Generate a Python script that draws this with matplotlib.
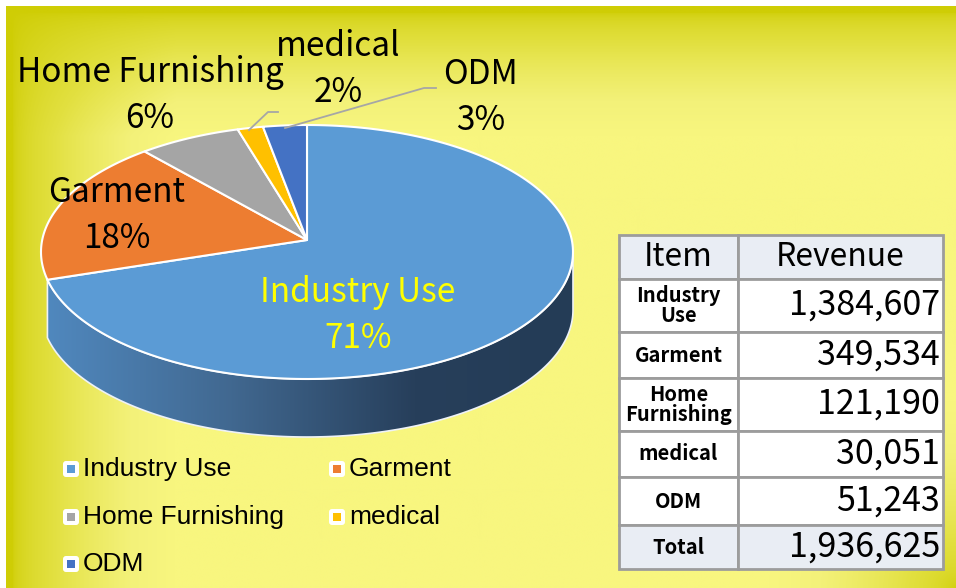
import matplotlib
matplotlib.use("Agg")
import matplotlib.pyplot as plt
import numpy as np
from matplotlib.patches import Polygon, Rectangle, FancyBboxPatch
from matplotlib.colors import LinearSegmentedColormap

# data
categories = ["Industry Use", "Garment", "Home Furnishing", "medical", "ODM"]
table_items = ["Industry\nUse", "Garment", "Home\nFurnishing", "medical", "ODM"]
revenue = [1384607, 349534, 121190, 30051, 51243]
colors = ["#5B9BD5", "#ED7D31", "#A5A5A5", "#FFC000", "#4472C4"]

W, H = 956, 588
LABEL_FONT = ["Noto Sans CJK TC", "DejaVu Sans"]
LEGEND_FONT = ["Liberation Sans", "DejaVu Sans"]

fig = plt.figure(figsize=(W / 100, H / 100), dpi=100)
ax = fig.add_axes([0, 0, 1, 1])
ax.set_xlim(0, W)
ax.set_ylim(H, 0)
ax.axis("off")

# background: light yellow fading to olive at the top, the left and the bottom-right corner
yy, xx = np.mgrid[0:H, 0:W].astype(float)
top = np.clip((yy - 6) / 125, 0, 1)
left = np.clip((xx - 6) / 165, 0, 1)
corner = np.clip(np.hypot(xx - W, yy - H) / 190, 0, 1)
light = np.sqrt(top * left * corner)
bg_cmap = LinearSegmentedColormap.from_list(
    "bg", [(0, "#cfcd05"), (0.5, "#e2e040"), (0.85, "#f3f179"), (1.0, "#f8f67f")])
ax.imshow(light, cmap=bg_cmap, vmin=0, vmax=1,
          extent=(6, W, H, 6), zorder=0, aspect="auto")

# pie geometry (ellipse in pixel space)
cx, cy, a, b = 307, 252, 266, 127
apex = (307, 240)
depth = 58
total = sum(revenue)
fracs = np.array(revenue) / total
bounds = 90 - 360 * np.concatenate([[0], np.cumsum(fracs)])


def ell(t, dy=0):
    t = np.radians(t)
    return np.column_stack([cx + a * np.cos(t), cy - b * np.sin(t) + dy])


# side wall: only the Industry Use part shows in front
split = bounds[1] + 360
ts = np.linspace(split, 360, 200)
verts = np.vstack([ell(ts), ell(ts[::-1], depth)])
poly = Polygon(verts, closed=True, facecolor="none", edgecolor="#eef2f7", lw=1.2, zorder=3)
ax.add_patch(poly)
side_cmap = LinearSegmentedColormap.from_list(
    "side", [(0, "#5088be"), (0.35, "#416890"), (0.7, "#273f5b"), (1, "#243c56")])
im = ax.imshow(np.linspace(0, 1, 256)[None, :], cmap=side_cmap, aspect="auto",
               extent=(verts[:, 0].min(), verts[:, 0].max(),
                       verts[:, 1].max(), verts[:, 1].min()), zorder=2)
im.set_clip_path(poly)

# top wedges
for i in range(len(revenue)):
    ts = np.linspace(bounds[i], bounds[i + 1], 200)
    verts = np.vstack([[apex], ell(ts)])
    ax.add_patch(Polygon(verts, closed=True, facecolor=colors[i],
                         edgecolor="white", lw=1.5, joinstyle="round", zorder=4))

# data labels
pct = [f"{round(f * 100):.0f}%" for f in fracs]
label_pos = [(358, 292, 338), (117, 193, 238), (150, 73, 118), (338, 47, 93), (481, 75, 121)]
for i, (x, y1, y2) in enumerate(label_pos):
    c = "#FFFF00" if i == 0 else "black"
    ax.text(x, y1, categories[i], ha="center", va="center", fontsize=24,
            family=LABEL_FONT, color=c, zorder=6)
    ax.text(x, y2, pct[i], ha="center", va="center", fontsize=24,
            family=LABEL_FONT, color=c, zorder=6)

# leader lines for the thin slices
ax.plot([278, 268, 249], [112, 112, 130], color="#a6a6a6", lw=1.3, zorder=5)
ax.plot([436, 424, 285], [88, 88, 128], color="#a6a6a6", lw=1.3, zorder=5)

# legend
leg_pos = [(62, 469), (328, 469), (62, 517), (328, 517), (62, 564)]
for (x, y), name, c in zip(leg_pos, categories, colors):
    ax.add_patch(FancyBboxPatch((x + 1, y - 8), 16, 16, boxstyle="round,pad=0,rounding_size=3",
                                facecolor="white", edgecolor="none", zorder=5))
    ax.add_patch(Rectangle((x + 5, y - 4), 8, 8, facecolor=c, edgecolor="none", zorder=6))
    ax.text(x + 21, y, name, ha="left", va="center", fontsize=19,
            family=LEGEND_FONT, zorder=6)

# revenue table
col_x = [619, 738, 943]
row_y = [235, 279, 332, 378, 431, 477, 525, 569]
rows = [("Item", "Revenue")] + [(t, f"{v:,}") for t, v in zip(table_items, revenue)] + \
       [("Total", f"{total:,}")]
for k, (item, val) in enumerate(rows):
    y0, y1 = row_y[k], row_y[k + 1]
    fill = "#e9edf4" if k in (0, len(rows) - 1) else "white"
    for j in range(2):
        ax.add_patch(Rectangle((col_x[j], y0), col_x[j + 1] - col_x[j], y1 - y0,
                               facecolor=fill, edgecolor="#9c9c9c", lw=2, zorder=5))
    ym = (y0 + y1) / 2
    if k == 0:
        ax.text((col_x[0] + col_x[1]) / 2, ym, item, ha="center", va="center",
                fontsize=23, family=LABEL_FONT, zorder=6)
        ax.text((col_x[1] + col_x[2]) / 2, ym, val, ha="center", va="center",
                fontsize=23, family=LABEL_FONT, zorder=6)
    else:
        ax.text((col_x[0] + col_x[1]) / 2, ym, item, ha="center", va="center",
                fontsize=14.5, family=LABEL_FONT, weight="bold", linespacing=0.9, zorder=6)
        ax.text(col_x[2] - 3, ym, val, ha="right", va="center",
                fontsize=24.5, family=LABEL_FONT, zorder=6)

fig.savefig("out.png", dpi=100)
